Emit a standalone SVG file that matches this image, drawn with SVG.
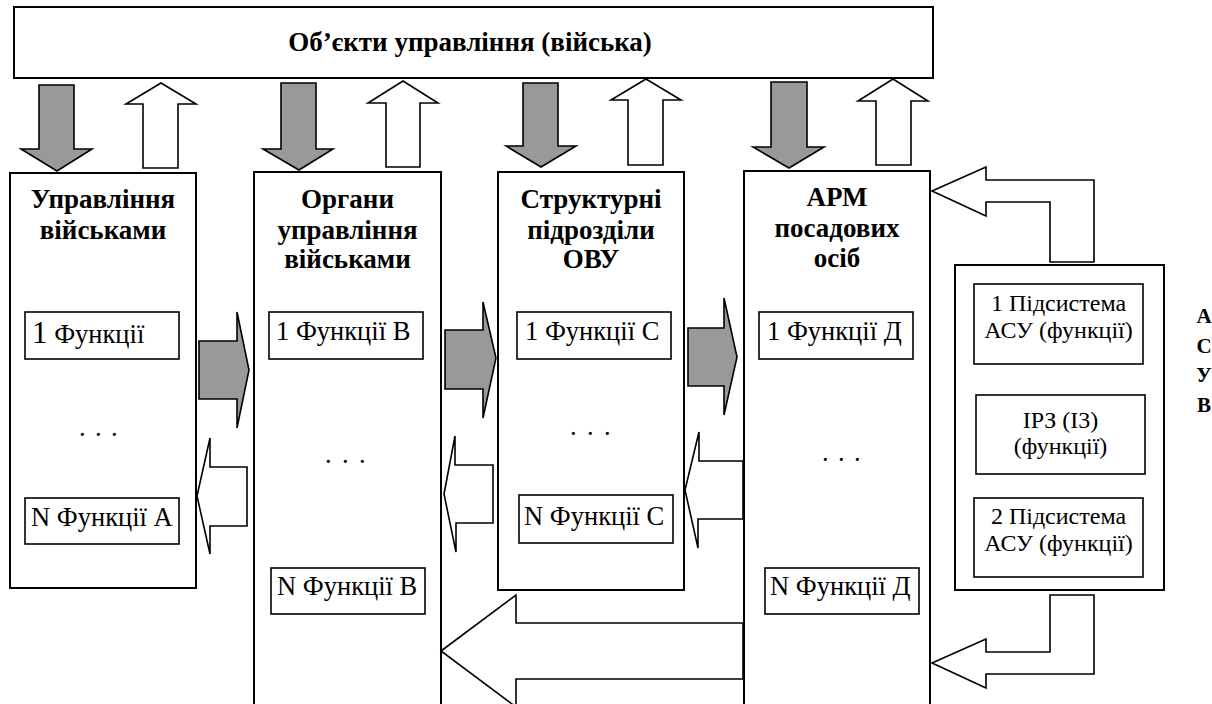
<svg xmlns="http://www.w3.org/2000/svg" width="1212" height="704" viewBox="0 0 1212 704">
  <style>
    .box { fill: #fff; stroke: #000; stroke-width: 2; }
    .fn { fill: #fff; stroke: #000; stroke-width: 1.6; }
    .ag { fill: #999; stroke: #000; stroke-width: 1.6; stroke-linejoin: miter; }
    .aw { fill: #fff; stroke: #000; stroke-width: 1.6; stroke-linejoin: miter; }
    text { font-family: 'Liberation Serif', 'DejaVu Serif', 'Noto Serif', serif; fill: #000; }
    .hd { font-weight: bold; font-size: 27px; text-anchor: middle; }
    .tx { font-size: 26.5px; }
    .tc { font-size: 24px; text-anchor: middle; }
    .lt { font-weight: bold; font-size: 21px; text-anchor: middle; }
  </style>
  <rect width="1212" height="704" fill="#fff"/>

  <!-- controlled objects -->
  <g id="objects">
    <rect class="box" x="14" y="7" width="919" height="71"/>
    <text class="hd" x="470" y="51">Об’єкти управління (війська)</text>
  </g>

  <!-- column 1 -->
  <g id="col-command">
    <rect class="box" x="10" y="173" width="186" height="415"/>
    <text class="hd" x="103" y="208">Управління</text>
    <text class="hd" x="103" y="239">військами</text>
    <rect class="fn" x="25" y="312" width="154" height="47"/>
    <text class="tx" x="32" y="343"><tspan font-size="31">1</tspan> Функції</text>
    <text class="tx" x="79 85 95 101 111" y="436">. . .</text>
    <rect class="fn" x="25" y="498" width="154" height="46"/>
    <text class="tx" x="31" y="526">N Функції А</text>
  </g>

  <!-- column 2 -->
  <g id="col-bodies">
    <rect class="box" x="254" y="172" width="187" height="540"/>
    <text class="hd" x="347.5" y="208">Органи</text>
    <text class="hd" x="347.5" y="239">управління</text>
    <text class="hd" x="347.5" y="268">військами</text>
    <rect class="fn" x="269" y="312" width="154" height="47"/>
    <text class="tx" x="276" y="340">1 Функції В</text>
    <text class="tx" x="325 331 342 348 359" y="463">. . .</text>
    <rect class="fn" x="271" y="568" width="154" height="46"/>
    <text class="tx" x="277" y="595">N Функції В</text>
  </g>

  <!-- column 3 -->
  <g id="col-units">
    <rect class="box" x="498" y="172" width="186" height="418"/>
    <text class="hd" x="591" y="208">Структурні</text>
    <text class="hd" x="591" y="239">підрозділи</text>
    <text class="hd" x="591" y="268">ОВУ</text>
    <rect class="fn" x="517" y="312" width="154" height="47"/>
    <text class="tx" x="525" y="340">1 Функції С</text>
    <text class="tx" x="570 576 587 593 604" y="435">. . .</text>
    <rect class="fn" x="519" y="495" width="154" height="48"/>
    <text class="tx" x="524" y="525">N Функції С</text>
  </g>

  <!-- column 4 -->
  <g id="col-workstations">
    <rect class="box" x="744" y="171" width="186" height="541"/>
    <text class="hd" x="837" y="206">АРМ</text>
    <text class="hd" x="837" y="237">посадових</text>
    <text class="hd" x="837" y="267">осіб</text>
    <rect class="fn" x="759" y="312" width="154" height="47"/>
    <text class="tx" x="767" y="340">1 Функції Д</text>
    <text class="tx" x="822 828 838 844 854" y="461">. . .</text>
    <rect class="fn" x="765" y="568" width="154" height="46"/>
    <text class="tx" x="770" y="595">N Функції Д</text>
  </g>

  <!-- automated control system -->
  <g id="asuv">
    <rect class="box" x="955" y="265" width="209" height="325"/>
    <rect class="fn" x="974" y="284" width="169" height="80"/>
    <text class="tc" x="1058.5" y="311">1 Підсистема</text>
    <text class="tc" x="1058.5" y="338">АСУ (функції)</text>
    <rect class="fn" x="976" y="395" width="169" height="79"/>
    <text class="tc" x="1060.5" y="428">ІРЗ (І3)</text>
    <text class="tc" x="1060.5" y="454">(функції)</text>
    <rect class="fn" x="974" y="498" width="169" height="79"/>
    <text class="tc" x="1058.5" y="524">2 Підсистема</text>
    <text class="tc" x="1058.5" y="551">АСУ (функції)</text>
    <text class="lt" x="1204" y="323">А</text>
    <text class="lt" x="1204" y="353">С</text>
    <text class="lt" x="1204" y="382">У</text>
    <text class="lt" x="1204" y="412">В</text>
  </g>

  <!-- block arrows -->
  <g id="connectors">
    <!-- downward (commands) -->
    <polygon class="ag" points="39,85 74,85 74,149 92,149 57,171 21,149 39,149"/>
    <polygon class="ag" points="281,83 316,83 316,149 333,149 299,170 263,149 281,149"/>
    <polygon class="ag" points="523,83 558,83 558,146 576,146 541,167 506,146 523,146"/>
    <polygon class="ag" points="771,82 807,82 807,147 824,147 789,168 753,147 771,147"/>
    <!-- upward (reports) -->
    <polygon class="aw" points="161,83 196,104 178,104 178,168 143,168 143,104 126,104"/>
    <polygon class="aw" points="403,81 438,103 420,103 420,167 386,167 386,103 368,103"/>
    <polygon class="aw" points="646,79 681,100 663,100 663,165 628,165 628,100 611,100"/>
    <polygon class="aw" points="893,79 928,101 911,101 911,165 876,165 876,101 858,101"/>
    <!-- rightward between columns -->
    <polygon class="ag" points="199,341 237,341 237,312 249,370 237,428 237,399 199,399"/>
    <polygon class="ag" points="445,330 483,330 483,302 496,358 483,418 483,389 445,389"/>
    <polygon class="ag" points="688,328 724,328 724,298 737,357 724,415 724,386 688,386"/>
    <!-- leftward returns -->
    <polygon class="aw" points="197,496 210,438 210,467 247,467 247,526 210,526 210,554"/>
    <polygon class="aw" points="444,494 455,436 455,465 493,465 493,523 456,523 456,552"/>
    <polygon class="aw" points="685,490 699,432 699,461 743,461 743,519 698,519 698,548"/>
    <!-- wide return to control bodies -->
    <polygon class="aw" points="441,651 516,595 516,623 743,623 743,679 516,679 516,707"/>
    <!-- bent arrows from the control system -->
    <polygon class="aw" points="932,191 986,167 986,180 1094,180 1094,262 1050,262 1050,202 986,202 986,216"/>
    <polygon class="aw" points="932,663 986,639 986,652 1050,652 1050,595 1094,595 1094,674 986,674 986,688"/>
  </g>
</svg>
